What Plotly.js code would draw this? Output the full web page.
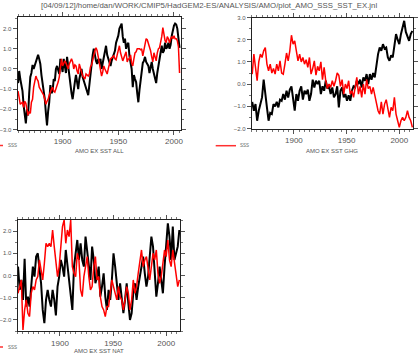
<!DOCTYPE html>
<html><head><meta charset="utf-8">
<script src="https://cdn.plot.ly/plotly-3.0.1.min.js"></script>
<style>html,body{margin:0;padding:0;background:#fff}#c{width:418px;height:354px}</style>
</head><body><div id="c"></div>
<script>
// Panel 1: AMO EX SST ALL (annual, 1860-2005)
const yearsAll = [1860,1861,1862,1863,1864,1865,1866,1867,1868,1869,1870,1871,1872,1873,1874,1875,1876,1877,1878,1879,1880,1881,1882,1883,1884,1885,1886,1887,1888,1889,1890,1891,1892,1893,1894,1895,1896,1897,1898,1899,1900,1901,1902,1903,1904,1905,1906,1907,1908,1909,1910,1911,1912,1913,1914,1915,1916,1917,1918,1919,1920,1921,1922,1923,1924,1925,1926,1927,1928,1929,1930,1931,1932,1933,1934,1935,1936,1937,1938,1939,1940,1941,1942,1943,1944,1945,1946,1947,1948,1949,1950,1951,1952,1953,1954,1955,1956,1957,1958,1959,1960,1961,1962,1963,1964,1965,1966,1967,1968,1969,1970,1971,1972,1973,1974,1975,1976,1977,1978,1979,1980,1981,1982,1983,1984,1985,1986,1987,1988,1989,1990,1991,1992,1993,1994,1995,1996,1997,1998,1999,2000,2001,2002,2003,2004,2005];
const sstAll = [-0.7,-0.1,-0.5,-0.9,-1.1,-1.8,-2.3,-2.7,-2.0,-2.3,
 -1.2,-0.4,-0.2,0.2,0.0,0.15,0.3,0.5,0.7,0.5,
 0.25,-0.3,-0.7,-1.2,-1.5,-2.2,-2.8,-2.1,-1.65,-0.8,
 -1.2,-1.1,-0.5,-0.6,0.0,0.15,-0.1,-0.25,0.5,0.2,
 -0.15,0.5,0.0,-0.2,0.6,0.1,-0.3,-0.8,-1.2,-1.5,
 -0.9,-0.65,-0.3,-0.8,-1.0,-0.5,-0.2,0.0,-0.4,-0.6,
 -0.7,-0.9,-1.1,-1.3,-0.8,-0.3,0.5,0.7,1.0,0.6,
 0.4,0.25,0.5,0.3,0.5,0.0,0.3,0.65,0.9,1.15,
 0.7,0.5,0.3,0.15,0.4,0.6,0.8,0.9,1.3,1.5,
 1.65,2.0,2.1,2.25,1.6,1.3,1.5,1.0,1.2,1.3,
 0.65,0.3,0.0,-0.9,-0.3,-0.5,-0.65,-1.2,-1.65,-1.05,
 -0.5,-0.1,0.3,0.4,0.6,0.35,0.2,0.15,-0.2,0.1,
 0.35,0.0,-0.3,-0.6,-0.7,-0.2,0.15,0.5,0.8,1.15,
 0.8,0.9,1.3,1.0,1.1,1.3,1.0,1.2,1.65,2.0,
 2.15,2.25,2.2,2.0,1.5,1.05];
const sssAll = [-1.1,-1.4,-1.75,-1.7,-1.65,-1.9,-1.6,-1.7,-2.0,-2.3,
 -2.1,-2.2,-1.65,-1.5,-0.9,-0.65,-0.35,-0.5,-0.6,-0.9,
 -1.0,-1.15,-1.2,-1.3,-1.5,-1.75,-1.6,-1.5,-1.3,-1.1,
 -1.0,-0.9,-1.1,-1.15,-1.0,-0.8,-0.65,-0.4,0.1,0.5,
 0.15,0.3,0.4,0.3,0.1,0.0,0.25,0.4,0.5,0.35,
 0.0,0.2,0.15,-0.1,-0.25,0.25,0.1,-0.15,-0.35,-0.4,
 -0.5,-0.25,-0.3,-0.35,-0.25,0.1,0.2,0.5,0.8,0.9,
 1.05,0.9,0.6,0.3,-0.1,-0.35,-0.15,0.15,0.0,-0.1,
 -0.25,0.0,0.2,0.5,0.55,0.6,0.65,0.5,0.45,0.7,
 1.0,1.15,0.8,0.6,0.4,0.55,0.7,0.85,0.35,0.5,
 0.5,0.7,0.3,0.15,0.5,0.8,0.85,1.0,1.0,1.0,
 0.95,1.0,0.65,1.0,1.15,1.5,1.45,1.3,1.05,0.9,
 0.6,0.35,0.8,0.6,0.4,0.8,1.0,1.05,1.3,1.6,
 2.05,1.7,1.4,1.3,1.6,1.5,1.3,1.5,1.6,1.5,
 1.65,1.5,1.5,1.4,1.1,-0.2];

// Panels 2 and 3: sample points
const yearsExt = [1860.5,1862.05,1863.6,1865.15,1866.7,1868.25,1869.8,1871.35,1872.9,1874.45,1876,1877.55,1879.1,1880.65,1882.2,1883.75,1885.3,1886.85,1888.4,1889.95,1891.5,1893.05,1894.6,1896.15,1897.7,1899.25,1900.8,1902.35,1903.9,1905.45,1907,1908.55,1910.1,1911.65,1913.2,1914.75,1916.3,1917.85,1919.4,1920.95,1922.5,1924.05,1925.6,1927.15,1928.7,1930.25,1931.8,1933.35,1934.9,1936.45,1938,1939.55,1941.1,1942.65,1944.2,1945.75,1947.3,1948.85,1950.4,1951.95,1953.5,1955.05,1956.6,1958.15,1959.7,1961.25,1962.8,1964.35,1965.9,1967.45,1969,1970.55,1972.1,1973.65,1975.2,1976.75,1978.3,1979.85,1981.4,1982.95,1984.5,1986.05,1987.6,1989.15,1990.7,1992.25,1993.8,1995.35,1996.9,1998.45,2000,2001.55,2003.1,2004.65,2006.2,2007.75,2009.3,2010.85,2012.4];
const sstGhg = [-0.8,-1.2,-0.9,-1.65,-1.2,-0.9,-0.6,0.2,-0.6,-1.05,
 -1.65,-1.3,-1.35,-0.9,-1.0,-0.8,-1.05,-0.7,-0.75,-0.45,
 -0.7,-0.3,-0.6,-0.25,-0.1,-0.6,-1.2,-0.45,-0.75,-0.3,
 -0.1,-0.7,-0.3,-0.45,-0.25,-0.75,-0.45,0.2,-0.15,0.15,
 0.0,0.15,-0.45,-0.1,-0.3,0.15,-0.2,-0.1,-0.45,-0.15,
 -0.6,-0.45,-0.1,-1.05,-0.3,-0.15,-0.6,-0.45,-0.75,-0.5,
 -0.75,-0.3,-0.1,-0.15,0.15,0.0,0.2,-0.15,0.3,0.15,
 0.45,0.0,0.45,0.2,0.5,0.3,0.9,1.35,1.65,1.5,
 1.8,1.6,1.65,1.2,1.05,1.3,1.2,1.8,2.25,2.0,
 1.8,2.25,2.55,2.85,2.35,2.1,1.95,2.25,2.4];
const sssGhg = [0.45,1.35,0.75,0.15,1.0,1.35,1.2,1.5,1.65,0.9,
 0.6,0.9,0.5,0.7,0.45,0.9,0.6,1.05,0.5,0.45,
 0.9,1.4,1.05,1.5,2.2,1.8,1.95,1.5,1.05,1.35,
 1.0,1.2,0.9,1.1,0.75,1.2,0.45,0.7,1.05,0.4,
 0.8,0.6,1.0,0.2,0.75,0.15,-0.2,0.0,-0.15,0.15,
 -0.1,0.15,0.5,0.4,-0.1,0.2,-0.45,0.0,-0.2,0.15,
 -0.45,-0.3,-0.6,-0.15,0.3,-0.45,-0.1,-0.6,0.0,-0.45,
 0.2,-0.2,-0.1,-0.45,-0.15,-0.5,-0.9,-1.2,-1.35,-0.8,
 -1.35,-0.9,-0.7,-1.05,-1.5,-1.05,-1.2,-0.6,-1.35,-1.65,
 -1.95,-1.65,-1.5,-1.65,-1.5,-1.2,-1.5,-1.65,-1.95];
const sstNat = [0.4,-0.65,-0.2,-1.1,0.75,-1.4,-0.95,-1.4,-0.5,
 0.4,-0.05,0.85,1.0,0.4,-0.35,-1.55,-2.15,-1.1,-0.65,
 -1.1,-1.4,-0.65,-1.1,-1.8,-0.5,-0.05,0.7,0.4,-0.05,
 1.15,0.4,-0.2,-0.95,-1.55,0.4,1.15,1.6,0.7,1.45,
 0.7,0.4,1.75,1.15,0.4,-0.2,1.3,0.7,-0.35,-0.05,
 0.4,-0.95,-0.5,0.1,-0.95,-1.55,-0.65,-1.1,-0.2,1.0,
 0.4,-0.5,-1.1,-0.35,-1.1,-1.7,-1.1,-0.35,-1.25,-2.0,
 -1.7,-0.8,-0.35,-1.1,-0.5,-0.05,0.55,0.85,0.1,-0.5,
 -0.05,0.85,1.75,1.3,-0.05,-0.95,-0.35,0.4,-0.2,-0.8,
 0.4,1.3,2.35,1.75,0.7,2.2,0.7,1.0,1.3,2.05];
const sssNat = [-0.8,-0.5,-0.2,-2.45,-1.55,-1.1,-1.7,-1.85,-0.8,-0.5,
 -0.65,-0.2,-0.05,0.7,0.25,-0.2,0.55,1.45,1.3,1.45,
 1.3,2.05,1.3,0.55,-0.05,0.4,1.15,2.2,2.5,1.45,
 2.05,1.75,2.5,0.4,0.1,-0.05,1.0,0.7,-0.65,-0.95,
 -0.05,0.4,0.85,-0.05,-0.65,-0.5,0.4,0.85,-0.2,-0.05,
 -0.95,-1.4,-1.55,-1.85,-1.4,-1.4,-0.8,-0.2,-0.5,-0.8,
 -1.1,-0.5,-0.95,-1.1,-1.55,-1.1,-0.5,-0.8,-1.55,-1.1,
 -0.2,-0.8,-0.5,0.1,0.7,1.15,0.4,0.7,0.85,0.25,
 -0.2,0.4,1.0,0.7,1.15,0.1,-0.35,-0.05,0.7,1.15,
 0.85,1.6,0.7,0.4,1.15,0.55,-0.05,-0.5,-0.2];

const panelTitles = ["AMO EX SST ALL", "AMO EX SST GHG", "AMO EX SST NAT"];
const legendLabel = "SSS";
const mainTitle = "[04/09/12]/home/dan/WORK/CMIP5/HadGEM2-ES/ANALYSIS/AMO/plot_AMO_SSS_SST_EX.jnl";
const xTickVals = [1900, 1950, 2000];

const W = 418, H = 354;
const FONT = "Liberation Sans, Arial, sans-serif";
const px = v => v / W, py = v => 1 - v / H;

function line(x, y, color, width, xa, ya) {
  return {x: x, y: y, type: 'scatter', mode: 'lines', xaxis: xa, yaxis: ya,
          line: {color: color, width: width}, showlegend: false, hoverinfo: 'skip'};
}
const traces = [
  line(yearsAll, sstAll, '#000', 2, 'x', 'y'),
  line(yearsAll, sssAll, '#ff0000', 1.5, 'x', 'y'),
  line(yearsExt, sstGhg, '#000', 2, 'x2', 'y2'),
  line(yearsExt, sssGhg, '#ff0000', 1.5, 'x2', 'y2'),
  line(yearsExt, sstNat, '#000', 2, 'x3', 'y3'),
  line(yearsExt, sssNat, '#ff0000', 1.5, 'x3', 'y3')
];

function xax(dom, range, anchor) {
  return {domain: dom, range: range, anchor: anchor, showgrid: false, zeroline: false,
    showline: true, linecolor: '#222', linewidth: 1, mirror: 'allticks',
    ticks: 'outside', ticklen: 4, tickcolor: '#555', tickvals: xTickVals,
    tickfont: {family: FONT, size: 8, color: '#555'},
    minor: {ticks: 'outside', ticklen: 2, dtick: 5, tick0: 1900, tickcolor: '#777'}};
}
function yax(dom, range, anchor) {
  return {domain: dom, range: range, anchor: anchor, showgrid: false, zeroline: false,
    showline: true, linecolor: '#222', linewidth: 1, mirror: 'allticks',
    ticks: 'outside', ticklen: 4, tickcolor: '#555', dtick: 1, tick0: 0, tickformat: '.1f',
    tickfont: {family: FONT, size: 6, color: '#555'},
    minor: {ticks: 'outside', ticklen: 2, dtick: 0.5, tick0: 0, tickcolor: '#777'}};
}

const ann = (x, y, text, size, color, xanchor) => ({xref: 'paper', yref: 'paper', x: px(x), y: py(y),
  text: text, showarrow: false, xanchor: xanchor || 'center', yanchor: 'middle',
  font: {family: FONT, size: size, color: color}});

const legendLine = (x0, x1, y) => ({type: 'line', xref: 'paper', yref: 'paper',
  x0: px(x0), x1: px(x1), y0: py(y), y1: py(y), line: {color: '#ff3030', width: 1.5}});

const layout = {
  width: W, height: H, margin: {l: 0, r: 0, t: 0, b: 0},
  paper_bgcolor: '#fff', plot_bgcolor: '#fff', showlegend: false,
  xaxis: xax([px(17.5), px(181)], [1859.5, 2006.3], 'y'),
  yaxis: yax([py(129.5), py(16.5)], [-3, 2.6], 'x'),
  xaxis2: xax([px(251.7), px(413)], [1860, 2013], 'y2'),
  yaxis2: yax([py(128.5), py(17.5)], [-2, 3], 'x2'),
  xaxis3: xax([px(17.5), px(180)], [1860, 2013], 'y3'),
  yaxis3: yax([py(331), py(220)], [-2.5, 2.5], 'x3'),
  annotations: [
    ann(209, 6, mainTitle, 7.8, '#555'),
    ann(99, 150.5, panelTitles[0], 6, '#555'),
    ann(332, 150.5, panelTitles[1], 6, '#555'),
    ann(99, 351, panelTitles[2], 6, '#555'),
    ann(6, 145.5, legendLabel, 4.5, '#666', 'left'),
    ann(238, 145.7, legendLabel, 4.5, '#666', 'left'),
    ann(6, 347, legendLabel, 4.5, '#666', 'left')
  ],
  shapes: [legendLine(0, 3, 145.5), legendLine(215.7, 236, 145.7), legendLine(0, 3, 347)]
};
Plotly.newPlot('c', traces, layout, {staticPlot: true, displayModeBar: false});
</script></body></html>
